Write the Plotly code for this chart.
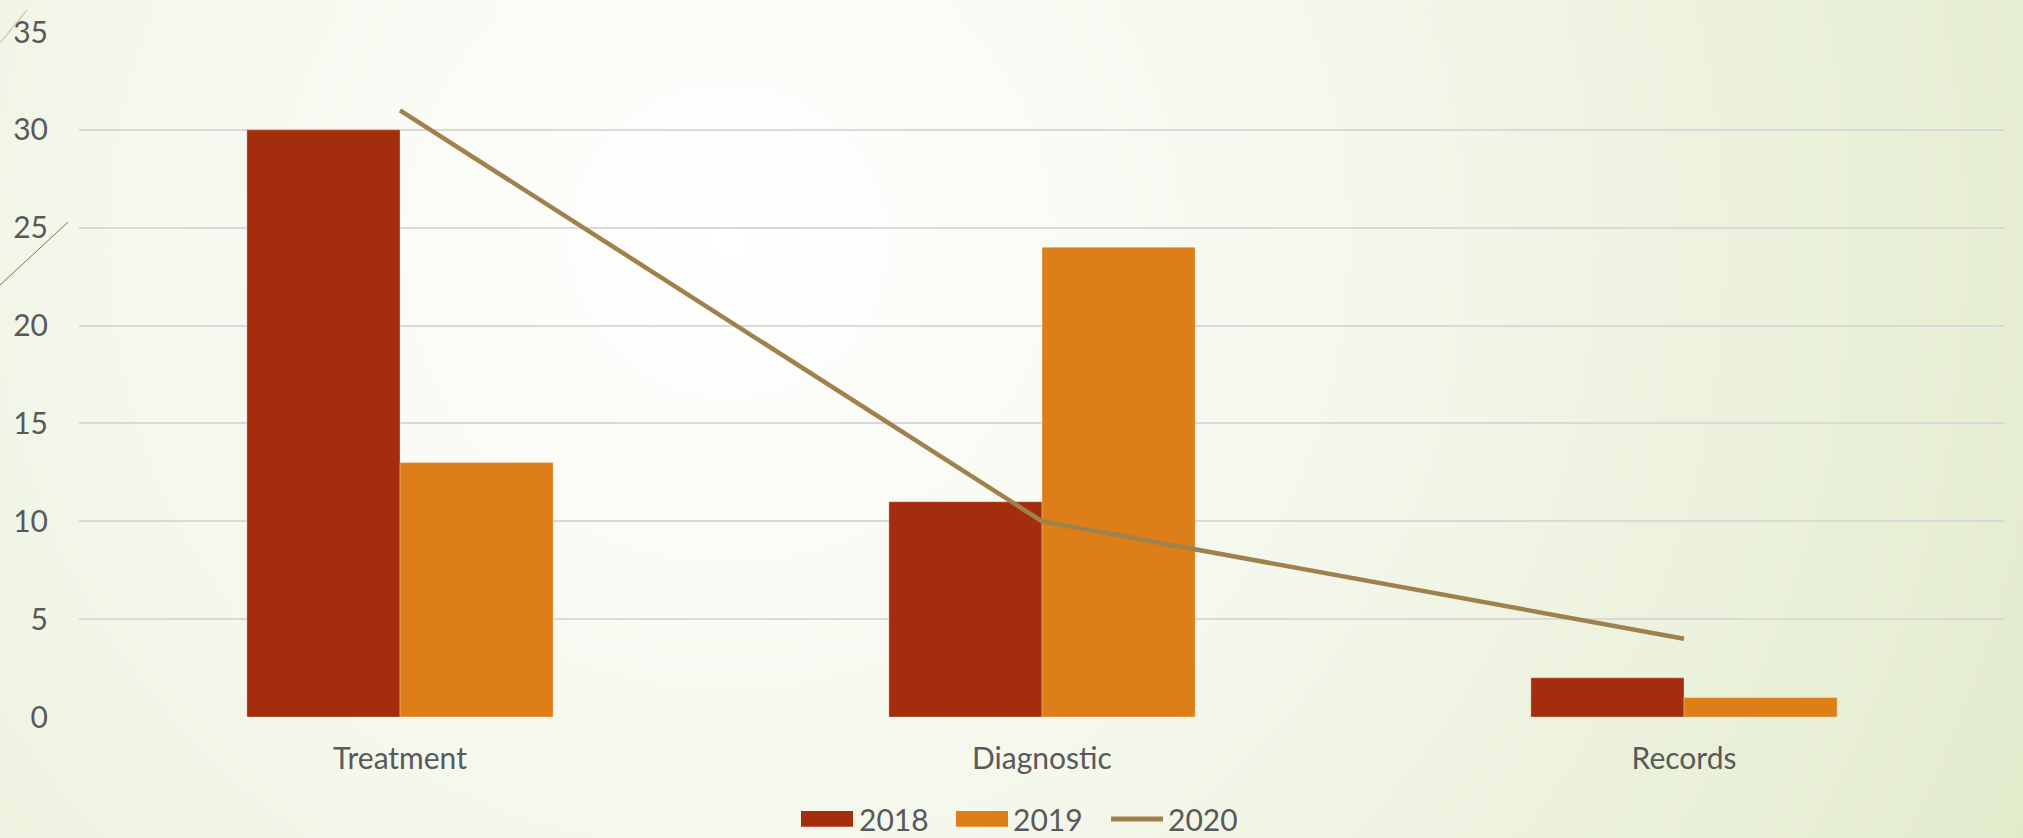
import base64
import plotly.graph_objects as go

# ---- data ----
categories = ["Treatment", "Diagnostic", "Records"]
series_names = ["2018", "2019", "2020"]
values_2018 = [30, 11, 2]
values_2019 = [13, 24, 1]
values_2020 = [31, 10, 4]
y_ticks = [0, 5, 10, 15, 20, 25, 30, 35]

# ---- styling ----
W, H = 2023, 838
L, R, T, B = 79, 18, 22, 120.5
PW, PH = W - L - R, H - T - B
C18, C19, C20 = "#A42D0E", "#DE7E18", "#A0814C"
TXT = "#595959"
FONT = "Century Gothic, Lato, sans-serif"


def px_x(px):
    return (px - L) / PW


def px_y(py):
    return (H - B - py) / PH


svg = f"""<svg xmlns='http://www.w3.org/2000/svg' width='{W}' height='{H}' viewBox='0 0 {W} {H}'>
<defs><radialGradient id='g' cx='{0.36*W}' cy='{0.28*H}' r='{0.82*W}' gradientUnits='userSpaceOnUse'>
<stop offset='0' stop-color='#ffffff'/><stop offset='0.3' stop-color='#f7f9f0'/>
<stop offset='0.7' stop-color='#e9f0d8'/><stop offset='1' stop-color='#dde6c2'/></radialGradient></defs>
<rect width='{W}' height='{H}' fill='url(#g)'/></svg>"""
bg_src = "data:image/svg+xml;base64," + base64.b64encode(svg.encode()).decode()

fig = go.Figure()
fig.add_trace(go.Bar(x=categories, y=values_2018, name=series_names[0],
                     marker=dict(color=C18, line=dict(color="rgba(255,255,255,0.3)", width=1))))
fig.add_trace(go.Bar(x=categories, y=values_2019, name=series_names[1],
                     marker=dict(color=C19, line=dict(color="rgba(255,255,255,0.3)", width=1))))
fig.add_trace(go.Scatter(x=categories, y=values_2020, name=series_names[2], mode="lines",
                         line=dict(color=C20, width=4.5)))

shapes = [
    # decorative slide lines
    dict(type="line", xref="paper", yref="paper", x0=px_x(0), y0=px_y(33), x1=px_x(27), y1=px_y(0),
         line=dict(color="#c9ceb4", width=1.5), layer="below"),
    dict(type="line", xref="paper", yref="paper", x0=px_x(0), y0=px_y(279), x1=px_x(68), y1=px_y(215),
         line=dict(color="#7d7358", width=1), layer="above"),
    # legend swatches
    dict(type="rect", xref="paper", yref="paper", x0=px_x(801), x1=px_x(853), y0=px_y(829), y1=px_y(813),
         fillcolor=C18, line=dict(width=0)),
    dict(type="rect", xref="paper", yref="paper", x0=px_x(956), x1=px_x(1008), y0=px_y(829), y1=px_y(813),
         fillcolor=C19, line=dict(width=0)),
    dict(type="line", xref="paper", yref="paper", x0=px_x(1111), x1=px_x(1163), y0=px_y(821), y1=px_y(821),
         line=dict(color=C20, width=5)),
]
annotations = [
    dict(text=series_names[0], xref="paper", yref="paper", x=px_x(857), y=px_y(821),
         xanchor="left", yanchor="middle", showarrow=False, font=dict(size=30, color=TXT, family=FONT)),
    dict(text=series_names[1], xref="paper", yref="paper", x=px_x(1011), y=px_y(821),
         xanchor="left", yanchor="middle", showarrow=False, font=dict(size=30, color=TXT, family=FONT)),
    dict(text=series_names[2], xref="paper", yref="paper", x=px_x(1166), y=px_y(821),
         xanchor="left", yanchor="middle", showarrow=False, font=dict(size=30, color=TXT, family=FONT)),
]

fig.update_layout(
    width=W, height=H,
    margin=dict(l=L, r=R, t=T, b=B, pad=0),
    paper_bgcolor="rgba(0,0,0,0)", plot_bgcolor="rgba(0,0,0,0)",
    barmode="group", bargap=0.523, bargroupgap=0,
    showlegend=False,
    font=dict(family=FONT, color=TXT, size=30),
    shapes=shapes, annotations=annotations,
    images=[dict(source=bg_src, xref="paper", yref="paper", x=-L / PW, y=1 + T / PH,
                 sizex=W / PW, sizey=H / PH, sizing="stretch", xanchor="left", yanchor="top",
                 layer="below")],
)
fig.update_xaxes(showgrid=False, showline=False, zeroline=False, ticks="",
                 tickfont=dict(size=30, color=TXT, family=FONT), ticklabelstandoff=21)
fig.update_yaxes(range=[0, 35], tickvals=y_ticks, showgrid=True, gridcolor="#d9d9d9", gridwidth=1.5,
                 zeroline=False, showline=False, ticks="",
                 tickfont=dict(size=30, color=TXT, family=FONT), ticklabelstandoff=30)

css_bg = ("radial-gradient(circle 1659px at 36% 28%, #ffffff 0%, #f7f9f0 30%, "
          "#e9f0d8 70%, #dde6c2 100%)")
fig.write_html(
    "out.html",
    config={"displayModeBar": False},
    post_script=("document.body.style.margin='0';document.body.style.overflow='hidden';"
                 "document.documentElement.style.overflow='hidden';"
                 f"document.body.style.background='{css_bg}';"),
)
